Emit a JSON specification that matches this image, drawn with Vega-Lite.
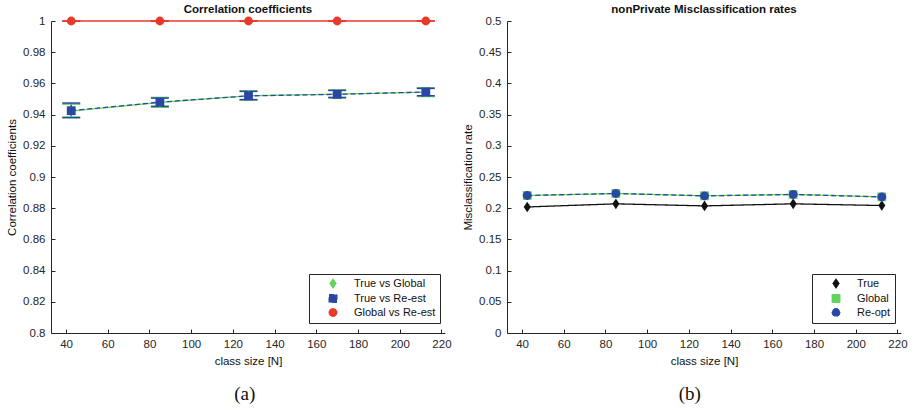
{
  "$schema": "https://vega.github.io/schema/vega-lite/v6.json",
  "padding": {"left": 6, "top": 3, "right": 5, "bottom": 2},
  "spacing": 10,
  "resolve": {"scale": {"color": "independent", "shape": "independent", "strokeDash": "independent"}, "legend": {"color": "independent", "shape": "independent", "strokeDash": "independent"}},
  "config": {
    "view": {"stroke": null},
    "font": "Liberation Sans",
    "axis": {"domainColor": "#262626", "tickColor": "#262626", "labelColor": "#262626", "titleColor": "#111111", "labelFont": "Liberation Sans", "titleFont": "Liberation Sans", "labelFontSize": 11.5, "titleFontSize": 11.5, "titleFontWeight": "normal", "tickSize": -4, "grid": false, "domainWidth": 1, "tickWidth": 1, "format": "~r"},
    "axisX": {"labelPadding": 9, "titlePadding": 6},
    "axisY": {"labelPadding": 10, "titlePadding": 5},
    "title": {"font": "Liberation Sans", "fontSize": 11.5, "fontWeight": "bold", "color": "#111111"},
    "legend": {"orient": "none", "strokeColor": "#262626", "fillColor": "white", "padding": 4, "symbolSize": 64, "symbolOffset": 14.5, "labelOffset": 15.5, "labelFontSize": 11, "labelFont": "Liberation Sans", "labelColor": "#111111", "rowPadding": 1, "symbolStrokeWidth": 1, "symbolOpacity": 1}
  },
  "hconcat": [
    {
      "title": {"text": "(a)", "orient": "bottom", "anchor": "middle", "font": "Liberation Serif", "fontSize": 19, "fontWeight": "normal", "offset": 18, "frame": "bounds", "dx": 16},
      "vconcat": [
        {
          "width": 394,
          "height": 312,
          "title": {"text": "Correlation coefficients", "frame": "group", "offset": 0},
          "data": {"values": [
            {"x": 42.5, "series": "True vs Global", "value": 0.9423, "lo": 0.9385, "hi": 0.9467},
            {"x": 85, "series": "True vs Global", "value": 0.9478, "lo": 0.9447, "hi": 0.951},
            {"x": 127.5, "series": "True vs Global", "value": 0.9521, "lo": 0.9493, "hi": 0.9552},
            {"x": 170, "series": "True vs Global", "value": 0.9531, "lo": 0.9506, "hi": 0.9558},
            {"x": 212.5, "series": "True vs Global", "value": 0.9544, "lo": 0.9516, "hi": 0.9572},
            {"x": 42.5, "series": "True vs Re-est", "value": 0.9425, "lo": 0.938, "hi": 0.9474},
            {"x": 85, "series": "True vs Re-est", "value": 0.948, "lo": 0.9453, "hi": 0.9506},
            {"x": 127.5, "series": "True vs Re-est", "value": 0.952, "lo": 0.9496, "hi": 0.9549},
            {"x": 170, "series": "True vs Re-est", "value": 0.953, "lo": 0.951, "hi": 0.9555},
            {"x": 212.5, "series": "True vs Re-est", "value": 0.9545, "lo": 0.9521, "hi": 0.9568},
            {"x": 42.5, "series": "Global vs Re-est", "value": 1, "lo": 1, "hi": 1},
            {"x": 85, "series": "Global vs Re-est", "value": 1, "lo": 1, "hi": 1},
            {"x": 127.5, "series": "Global vs Re-est", "value": 1, "lo": 1, "hi": 1},
            {"x": 170, "series": "Global vs Re-est", "value": 1, "lo": 1, "hi": 1},
            {"x": 212.5, "series": "Global vs Re-est", "value": 1, "lo": 1, "hi": 1}
          ]},
          "encoding": {
            "x": {"field": "x", "type": "quantitative", "scale": {"domain": [32.8, 221.7], "nice": false, "zero": false}, "axis": {"values": [40, 60, 80, 100, 120, 140, 160, 180, 200, 220], "title": "class size [N]"}},
            "color": {"field": "series", "type": "nominal", "scale": {"domain": ["True vs Global", "True vs Re-est", "Global vs Re-est"], "range": ["#62d45a", "#2a47a6", "#e8392b"]}, "legend": {"legendX": 258, "legendY": 253, "title": null}}
          },
          "layer": [
            {
              "mark": {"type": "rule", "strokeWidth": 1.5},
              "encoding": {
                "y": {"field": "lo", "type": "quantitative", "scale": {"domain": [0.8, 1], "nice": false, "zero": false}, "axis": {"title": "Correlation coefficients", "values": [0.8, 0.82, 0.84, 0.86, 0.88, 0.9, 0.92, 0.94, 0.96, 0.98, 1]}},
                "y2": {"field": "hi"}
              }
            },
            {
              "mark": {"type": "tick", "orient": "horizontal", "size": 18, "thickness": 1.5, "opacity": 1},
              "encoding": {
                "y": {"field": "lo", "type": "quantitative", "axis": {"title": "Correlation coefficients", "values": [0.8, 0.82, 0.84, 0.86, 0.88, 0.9, 0.92, 0.94, 0.96, 0.98, 1]}}
              }
            },
            {
              "mark": {"type": "tick", "orient": "horizontal", "size": 18, "thickness": 1.5, "opacity": 1},
              "encoding": {
                "y": {"field": "hi", "type": "quantitative", "axis": {"title": "Correlation coefficients", "values": [0.8, 0.82, 0.84, 0.86, 0.88, 0.9, 0.92, 0.94, 0.96, 0.98, 1]}}
              }
            },
            {
              "mark": {"type": "line", "strokeWidth": 1.3},
              "encoding": {
                "y": {"field": "value", "type": "quantitative", "axis": {"title": "Correlation coefficients", "values": [0.8, 0.82, 0.84, 0.86, 0.88, 0.9, 0.92, 0.94, 0.96, 0.98, 1]}},
                "strokeDash": {"field": "series", "type": "nominal", "scale": {"domain": ["True vs Global", "True vs Re-est", "Global vs Re-est"], "range": [[1, 0], [5, 3], [1, 0]]}, "legend": null}
              }
            },
            {
              "mark": {"type": "point", "filled": true, "opacity": 1, "size": 78},
              "encoding": {
                "y": {"field": "value", "type": "quantitative", "axis": {"title": "Correlation coefficients", "values": [0.8, 0.82, 0.84, 0.86, 0.88, 0.9, 0.92, 0.94, 0.96, 0.98, 1]}},
                "shape": {"field": "series", "type": "nominal", "scale": {"domain": ["True vs Global", "True vs Re-est", "Global vs Re-est"], "range": ["M0,-1.2L0.8,0L0,1.2L-0.8,0Z", "square", "circle"]}}
              }
            }
          ]
        }
      ]
    },
    {
      "title": {"text": "(b)", "orient": "bottom", "anchor": "middle", "font": "Liberation Serif", "fontSize": 19, "fontWeight": "normal", "offset": 18, "frame": "bounds", "dx": 5},
      "vconcat": [
        {
          "width": 394,
          "height": 312,
          "title": {"text": "nonPrivate Misclassification rates", "frame": "group", "offset": 0},
          "data": {"values": [
            {"x": 42.5, "series": "True", "value": 0.202},
            {"x": 85, "series": "True", "value": 0.207},
            {"x": 127.5, "series": "True", "value": 0.2037},
            {"x": 170, "series": "True", "value": 0.207},
            {"x": 212.5, "series": "True", "value": 0.2043},
            {"x": 42.5, "series": "Global", "value": 0.2203},
            {"x": 85, "series": "Global", "value": 0.2235},
            {"x": 127.5, "series": "Global", "value": 0.2199},
            {"x": 170, "series": "Global", "value": 0.2221},
            {"x": 212.5, "series": "Global", "value": 0.2182},
            {"x": 42.5, "series": "Re-opt", "value": 0.2204},
            {"x": 85, "series": "Re-opt", "value": 0.2236},
            {"x": 127.5, "series": "Re-opt", "value": 0.2198},
            {"x": 170, "series": "Re-opt", "value": 0.222},
            {"x": 212.5, "series": "Re-opt", "value": 0.2181}
          ]},
          "encoding": {
            "x": {"field": "x", "type": "quantitative", "scale": {"domain": [32.8, 221.7], "nice": false, "zero": false}, "axis": {"values": [40, 60, 80, 100, 120, 140, 160, 180, 200, 220], "title": "class size [N]"}},
            "y": {"field": "value", "type": "quantitative", "scale": {"domain": [0, 0.5], "nice": false}, "axis": {"title": "Misclassification rate", "values": [0, 0.05, 0.1, 0.15, 0.2, 0.25, 0.3, 0.35, 0.4, 0.45, 0.5]}},
            "color": {"field": "series", "type": "nominal", "scale": {"domain": ["True", "Global", "Re-opt"], "range": ["#111111", "#62d45a", "#2a47a6"]}, "legend": {"legendX": 305, "legendY": 253, "title": null}}
          },
          "layer": [
            {
              "mark": {"type": "line", "strokeWidth": 1.3},
              "encoding": {
                "strokeDash": {"field": "series", "type": "nominal", "scale": {"domain": ["True", "Global", "Re-opt"], "range": [[1, 0], [1, 0], [5, 3]]}, "legend": null}
              }
            },
            {
              "mark": {"type": "point", "filled": true, "opacity": 1, "size": 78},
              "encoding": {
                "shape": {"field": "series", "type": "nominal", "scale": {"domain": ["True", "Global", "Re-opt"], "range": ["M0,-1.2L0.8,0L0,1.2L-0.8,0Z", "square", "circle"]}}
              }
            }
          ]
        }
      ]
    }
  ]
}
